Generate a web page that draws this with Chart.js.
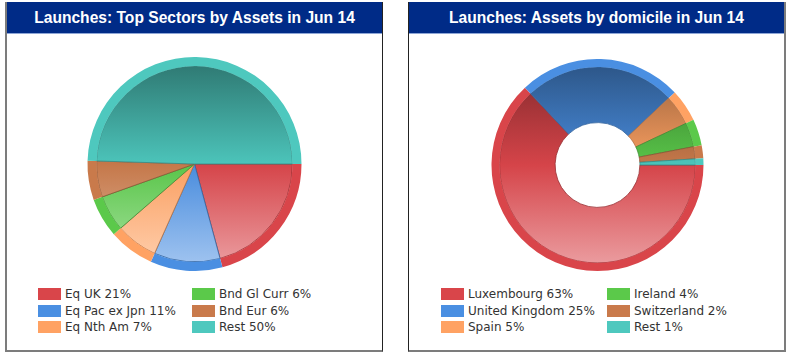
<!DOCTYPE html>
<html>
<head>
<meta charset="utf-8">
<script src="https://cdn.jsdelivr.net/npm/chart.js@4"></script>
<style>
  html, body { margin:0; padding:0; background:#fff; width:796px; height:356px; overflow:hidden; }
  .panel { position:absolute; top:2px; height:350px; box-sizing:border-box; background:#fff; }
  .title { position:absolute; left:0; right:0; top:0; height:31px; background:#002b87; border-bottom:1px solid #8ea6d6;
           color:#fff; font:bold 15.6px "Liberation Sans", Arial, sans-serif; text-align:center; line-height:32px; }
  canvas { position:absolute; }
  .leg { position:absolute; font:12px "DejaVu Sans", Verdana, sans-serif; color:#333; white-space:nowrap; }
  .leg .sw { position:absolute; width:23px; height:12px; }
  .leg .tx { position:absolute; line-height:14px; }
</style>
</head>
<body>
<div class="panel" id="p1" style="left:5px;width:378px;border-left:2px solid #7c7c7c;border-right:1px solid #222;border-bottom:2px solid #7c7c7c;">
  <div class="title" id="t1"></div>
</div>
<div class="panel" id="p2" style="left:408px;width:378px;border-left:1px solid #222;border-right:2px solid #7c7c7c;border-bottom:2px solid #7c7c7c;">
  <div class="title" id="t2"></div>
</div>
<canvas id="c1" width="375" height="214" style="left:7px;top:57px;width:375px;height:214px;"></canvas>
<canvas id="c2" width="375" height="212" style="left:410px;top:59px;width:375px;height:212px;"></canvas>
<div id="legends"></div>
<script>
// ---- data ----
const title1 = "Launches: Top Sectors by Assets in Jun 14";
const sectorLabels = ["Eq UK", "Eq Pac ex Jpn", "Eq Nth Am", "Bnd Gl Curr", "Bnd Eur", "Rest"];
const sectorValues = [21, 11, 7, 6, 6, 50];

const title2 = "Launches: Assets by domicile in Jun 14";
const domicileLabels = ["Luxembourg", "United Kingdom", "Spain", "Ireland", "Switzerland", "Rest"];
const domicileValues = [63, 25, 5, 4, 2, 1];

const palette = ["#d9454a", "#4a8fe2", "#ffa263", "#5bc94a", "#c97a4b", "#4ec8be"];

// ---- helpers ----
function hexToRgb(h){ h=h.replace('#',''); return [parseInt(h.substr(0,2),16),parseInt(h.substr(2,2),16),parseInt(h.substr(4,2),16)]; }
function mix(hex, target, f){ const c=hexToRgb(hex); return 'rgb('+c.map(v=>Math.round(v+(target-v)*f)).join(',')+')'; }
function innerFill(ctx){
  const base = palette[ctx.dataIndex % palette.length];
  const chart = ctx.chart, area = chart.chartArea;
  if(!area) return base;
  const cy = (area.top+area.bottom)/2, r = Math.min(area.width, area.height)/2;
  const g = chart.ctx.createLinearGradient(0, cy-r, 0, cy+r);
  g.addColorStop(0, mix(base, 0, 0.42));
  g.addColorStop(0.5, mix(base, 0, 0.02));
  g.addColorStop(1, mix(base, 255, 0.5));
  return g;
}
function innerBorder(ctx){
  return mix(palette[ctx.dataIndex % palette.length], 0, 0.3);
}

function makeChart(id, labels, values, cutout, rimW, innerW){
  return new Chart(document.getElementById(id), {
    type: 'doughnut',
    data: {
      labels: labels,
      datasets: [
        { data: values, backgroundColor: palette, borderWidth: 0, weight: rimW },
        { data: values, backgroundColor: innerFill, borderWidth: 0.8,
          borderColor: innerBorder, weight: innerW }
      ]
    },
    options: {
      responsive: false, animation: false, rotation: 90, cutout: cutout,
      layout: { padding: 0 },
      plugins: { legend: { display: false }, tooltip: { enabled: false } }
    }
  });
}

document.getElementById('t1').textContent = title1;
document.getElementById('t2').textContent = title2;

makeChart('c1', sectorLabels, sectorValues, 0, 9, 97);
makeChart('c2', domicileLabels, domicileValues, '40%', 8, 55);

function legend(labels, values, colX, rowY){
  const box = document.getElementById('legends');
  labels.forEach((l, i) => {
    const col = Math.floor(i/3), row = i%3;
    const d = document.createElement('div');
    d.className = 'leg';
    d.style.left = colX[col] + 'px';
    d.style.top = (rowY[row] - 7) + 'px';
    const sw = document.createElement('div'); sw.className='sw'; sw.style.background = palette[i]; sw.style.left='0px'; sw.style.top='1px';
    const tx = document.createElement('div'); tx.className='tx'; tx.style.left='27px'; tx.style.top='0px';
    tx.textContent = l + ' ' + values[i] + '%';
    d.appendChild(sw); d.appendChild(tx); box.appendChild(d);
  });
}
legend(sectorLabels, sectorValues, [38, 192], [294, 311, 327]);
legend(domicileLabels, domicileValues, [441, 607], [294, 311, 327]);
</script>
</body>
</html>
